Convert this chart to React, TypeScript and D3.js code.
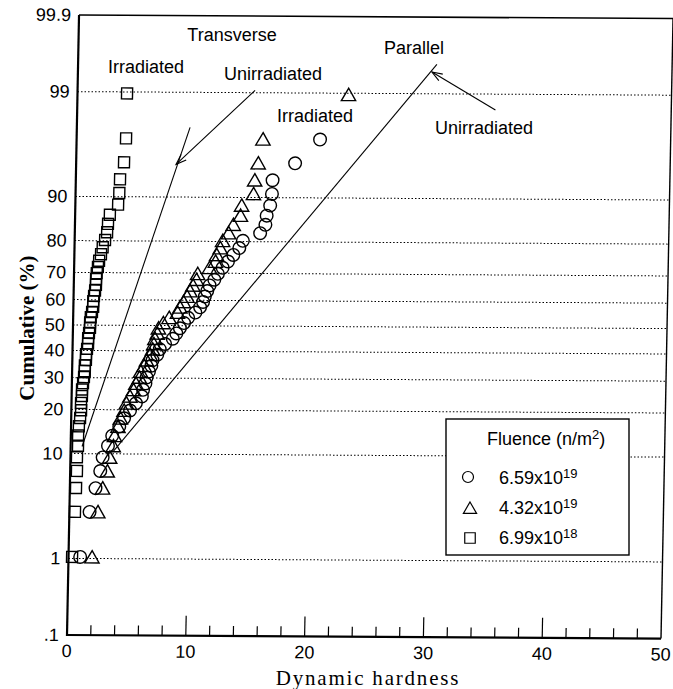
import * as d3 from "d3";
import { useEffect } from "react";

// cumulative rank (%) of each specimen, shared by the three series
const cumPct = [1.04, 3.13, 5.21, 7.29, 9.38, 11.46, 13.54, 15.63, 17.71, 19.79, 21.88, 23.96,
  26.04, 28.13, 30.21, 32.29, 34.38, 36.46, 38.54, 40.63, 42.71, 44.79, 46.88, 48.96,
  51.04, 53.13, 55.21, 57.29, 59.38, 61.46, 63.54, 65.63, 67.71, 69.79, 71.88, 73.96,
  76.04, 78.13, 80.21, 82.29, 84.38, 86.46, 88.54, 90.63, 92.71, 94.79, 96.88, 98.96];

// 6.59x10^19 (circles)
const circlesX = [0.98, 1.7, 2.16, 2.53, 2.71, 3.14, 3.48, 4.06, 4.45, 4.94, 5.42, 5.91,
  6.0, 6.19, 6.28, 6.47, 6.66, 6.75, 7.14, 7.34, 7.78, 8.42, 8.71, 9.0,
  9.34, 9.68, 10.28, 10.67, 10.91, 11.05, 11.24, 11.43, 11.82, 12.11, 12.5, 12.94,
  13.38, 13.87, 14.16, 15.6, 16.03, 16.12, 16.4, 16.53, 16.56, 18.43, 20.49];
// 4.32x10^19 (triangles)
const trianglesX = [1.98, 2.4, 2.76, 3.13, 3.31, 3.59, 3.68, 3.96, 4.15, 4.44, 4.62, 4.91,
  5.2, 5.39, 5.68, 5.77, 6.06, 6.25, 6.54, 6.74, 6.83, 6.92, 7.11, 7.2,
  7.59, 8.08, 8.78, 8.97, 9.26, 9.55, 9.79, 10.03, 10.32, 10.41, 11.4, 11.89,
  11.98, 12.27, 12.46, 12.95, 13.33, 13.92, 14.0, 14.98, 15.06, 15.33, 15.69, 22.82];
// 6.99x10^18 (squares)
const squaresX = [0.3, 0.47, 0.52, 0.57, 0.55, 0.62, 0.61, 0.66, 0.75, 0.82, 0.8, 0.87,
  0.86, 0.94, 1.01, 1.07, 1.06, 1.15, 1.14, 1.22, 1.3, 1.29, 1.36, 1.44,
  1.43, 1.48, 1.58, 1.67, 1.66, 1.72, 1.8, 1.87, 1.86, 1.91, 2.0, 2.09,
  2.24, 2.37, 2.56, 2.72, 2.78, 2.92, 3.6, 3.68, 3.72, 4.03, 4.16, 4.17];

// fitted lines for the unirradiated specimens [x, %]
const transverseFit = [[0.96, 11.3], [9.53, 97.6]];
const parallelFit = [[3.58, 10.4], [30.2, 99.56]];
// pointer arrows [from, to]
const transversePointer = [[14.94, 99.06], [8.41, 94.6]];
const parallelPointer = [[35.2, 98.49], [29.8, 99.45]];

const yTicks = [99, 90, 80, 70, 60, 50, 40, 30, 20, 10, 1];
const yLabels = ["99.9", "99", "90", "80", "70", "60", "50", "40", "30", "20", "10", "1", ".1"];
const yLabelVals = [99.9, 99, 90, 80, 70, 60, 50, 40, 30, 20, 10, 1, 0.1];
const xTicks = [0, 10, 20, 30, 40, 50];
const xMinor = [2, 4, 6, 8, 12, 14, 16, 18, 22, 24, 26, 28, 32, 34, 36, 38, 42, 44, 46, 48];

const legendLabels = ["6.59x10", "4.32x10", "6.99x10"];
const legendExp = ["19", "19", "18"];

// inverse normal cdf (Acklam)
function probit(p: number) {
  const a = [-39.69683028665376, 220.9460984245205, -275.9285104469687, 138.357751867269, -30.66479806614716, 2.506628277459239];
  const b = [-54.47609879822406, 161.5858368580409, -155.6989798598866, 66.80131188771972, -13.28068155288572];
  const c = [-0.007784894002430293, -0.3223964580411365, -2.400758277161838, -2.549732539343734, 4.374664141464968, 2.938163982698783];
  const d = [0.007784695709041462, 0.3224671290700398, 2.445134137142996, 3.754408661907416];
  const plow = 0.02425;
  if (p < plow) {
    const q = Math.sqrt(-2 * Math.log(p));
    return (((((c[0] * q + c[1]) * q + c[2]) * q + c[3]) * q + c[4]) * q + c[5]) / ((((d[0] * q + d[1]) * q + d[2]) * q + d[3]) * q + 1);
  }
  if (p <= 1 - plow) {
    const q = p - 0.5, r = q * q;
    return (((((a[0] * r + a[1]) * r + a[2]) * r + a[3]) * r + a[4]) * r + a[5]) * q / (((((b[0] * r + b[1]) * r + b[2]) * r + b[3]) * r + b[4]) * r + 1);
  }
  const q = Math.sqrt(-2 * Math.log(1 - p));
  return -(((((c[0] * q + c[1]) * q + c[2]) * q + c[3]) * q + c[4]) * q + c[5]) / ((((d[0] * q + d[1]) * q + d[2]) * q + d[3]) * q + 1);
}

const W = 673, H = 689;
const left = 67, right = 661, top = 15, bottom = 635;

const x = d3.scaleLinear().domain([0, 50]).range([left, right]);
const zScale = d3.scaleLinear().domain([probit(0.001), probit(0.999)]).range([bottom, top]);
const y = (pct: number) => zScale(probit(pct / 100));

// the scanned page sits slightly askew
const kx = 0.0194, ky = 0.006;
const scanSkew = `matrix(1,${ky},${-kx},1,${kx * bottom},${-ky * left})`;

const sans = "'Liberation Sans', Arial, sans-serif";
const serif = "'Liberation Serif', 'Times New Roman', serif";

const circlePath = (r: number) => `M${r},0A${r},${r} 0 1,1 ${-r},0A${r},${r} 0 1,1 ${r},0Z`;
const squarePath = (s: number) => `M${-s / 2},${-s / 2}h${s}v${s}h${-s}Z`;
const triPath = (s: number) => `M0,${-s * 0.5}L${s * 0.55},${s * 0.45}L${-s * 0.55},${s * 0.45}Z`;

function Arrow({ seg }: { seg: number[][] }) {
  const x1 = x(seg[0][0]), y1 = y(seg[0][1]), x2 = x(seg[1][0]), y2 = y(seg[1][1]);
  const ang = Math.atan2(y1 - y2, x1 - x2);
  const len = 11, spread = 0.35;
  const h1 = [x2 + len * Math.cos(ang + spread), y2 + len * Math.sin(ang + spread)];
  const h2 = [x2 + len * Math.cos(ang - spread), y2 + len * Math.sin(ang - spread)];
  return (
    <g stroke="#000" strokeWidth={1.1} fill="none">
      <line x1={x1} y1={y1} x2={x2} y2={y2} />
      <polyline points={`${h1[0]},${h1[1]} ${x2},${y2} ${h2[0]},${h2[1]}`} />
    </g>
  );
}

export default function App() {
  useEffect(() => { document.body.style.margin = "0"; }, []);

  const fitLine = d3.line<number[]>().x((d) => x(d[0])).y((d) => y(d[1]));

  return (
    <svg width={W} height={H} style={{ display: "block", background: "#fff" }}>
      <g transform={scanSkew}>
        {/* gridlines */}
        {yTicks.map((t) => (
          <line key={t} x1={left} x2={right} y1={y(t)} y2={y(t)} stroke="#000" strokeWidth={1} strokeDasharray="1.5,2" />
        ))}
        {/* frame */}
        <line x1={left} x2={right + 12} y1={top} y2={top} stroke="#000" strokeWidth={1.6} />
        <line x1={right} x2={right} y1={top} y2={bottom} stroke="#000" strokeWidth={1.4} />
        <line x1={left} x2={left} y1={top} y2={bottom + 1} stroke="#000" strokeWidth={2.2} />
        <line x1={left} x2={right} y1={bottom} y2={bottom} stroke="#000" strokeWidth={2.2} />
        {/* x ticks */}
        {xMinor.map((t) => (
          <line key={t} x1={x(t)} x2={x(t)} y1={bottom} y2={bottom - 10} stroke="#000" strokeWidth={1.2} />
        ))}
        {xTicks.slice(1, -1).map((t) => (
          <line key={t} x1={x(t)} x2={x(t)} y1={bottom} y2={bottom - 20} stroke="#000" strokeWidth={1.2} />
        ))}
        {xTicks.map((t) => (
          <text key={t} x={x(t)} y={bottom + 22} textAnchor="middle" fontFamily={sans} fontSize={18}>{t}</text>
        ))}
        {yLabels.map((l, i) => (
          <text key={l} x={left - 8} y={y(yLabelVals[i]) + 6} textAnchor="end" fontFamily={sans} fontSize={18}>{l}</text>
        ))}

        {/* fitted lines and pointers */}
        <path d={fitLine(transverseFit) || ""} stroke="#000" strokeWidth={1.1} fill="none" />
        <path d={fitLine(parallelFit) || ""} stroke="#000" strokeWidth={1.1} fill="none" />
        <Arrow seg={transversePointer} />
        <Arrow seg={parallelPointer} />

        {/* data */}
        <g fill="none" stroke="#000" strokeWidth={1.4}>
          {squaresX.map((v, i) => (
            <path key={"s" + i} d={squarePath(11)} transform={`translate(${x(v)},${y(cumPct[i])})`} />
          ))}
          {trianglesX.map((v, i) => (
            <path key={"t" + i} d={triPath(13)} transform={`translate(${x(v)},${y(cumPct[i])})`} />
          ))}
          {circlesX.map((v, i) => (
            <path key={"c" + i} d={circlePath(6.3)} transform={`translate(${x(v)},${y(cumPct[i])})`} />
          ))}
        </g>
      </g>

      {/* axis titles */}
      <text transform={`translate(34,${(top + bottom) / 2 + 3}) rotate(-90)`} textAnchor="middle" fontFamily={serif} fontWeight="bold" fontSize={21}>Cumulative (%)</text>
      <text x={368} y={685} textAnchor="middle" fontFamily={serif} fontSize={21} letterSpacing={1.8}>Dynamic hardness</text>

      {/* annotations */}
      <g fontFamily={sans} fontSize={18} textAnchor="middle">
        <text x={232} y={41}>Transverse</text>
        <text x={146} y={73}>Irradiated</text>
        <text x={273} y={80}>Unirradiated</text>
        <text x={315} y={122}>Irradiated</text>
        <text x={414} y={54}>Parallel</text>
        <text x={484} y={134}>Unirradiated</text>
      </g>

      {/* legend */}
      <rect x={446} y={419} width={183} height={136} fill="#fff" stroke="#000" strokeWidth={1.4} />
      <text x={487} y={445} fontFamily={sans} fontSize={18}>
        Fluence (n/m<tspan dy={-6} fontSize={13}>2</tspan><tspan dy={6}>)</tspan>
      </text>
      <g fill="none" stroke="#000" strokeWidth={1.2}>
        <path d={circlePath(5.5)} transform="translate(468,477)" />
        <path d={triPath(12)} transform="translate(470,508)" />
        <path d={squarePath(10.5)} transform="translate(470,538)" />
      </g>
      {legendLabels.map((l, i) => (
        <text key={l} x={499} y={484 + i * 30} fontFamily={sans} fontSize={18}>
          {l}<tspan dy={-6} fontSize={13}>{legendExp[i]}</tspan>
        </text>
      ))}
    </svg>
  );
}
